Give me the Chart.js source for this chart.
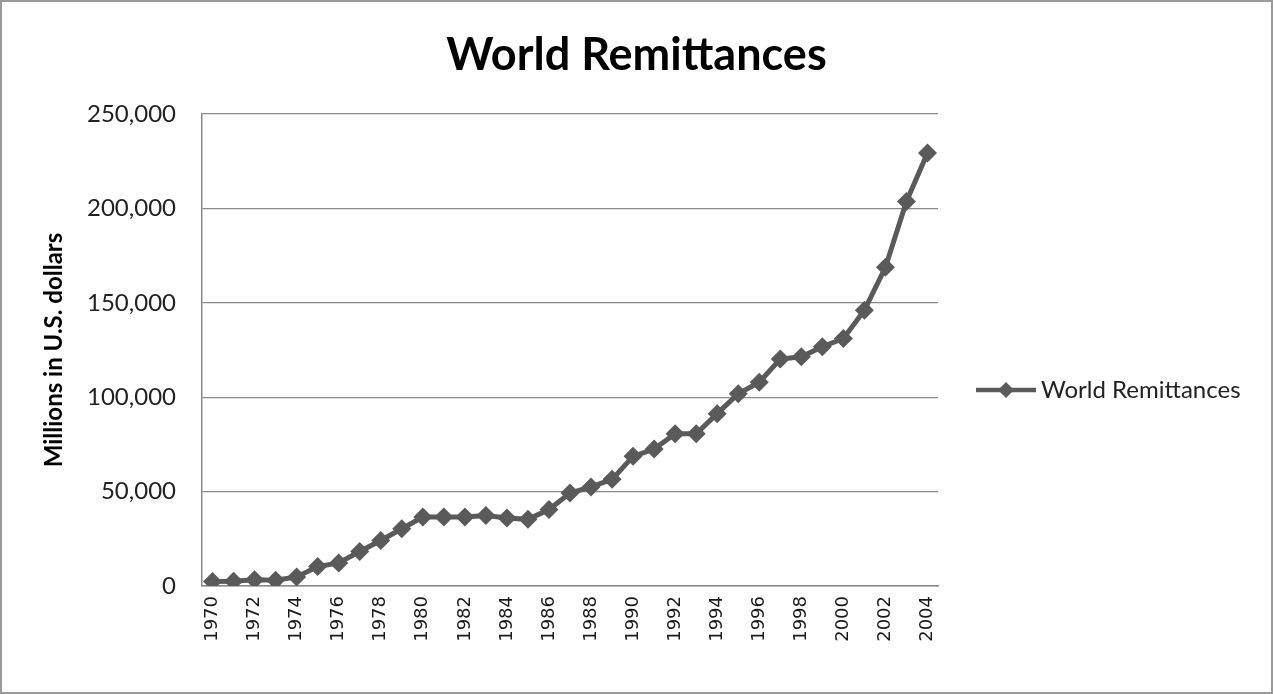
<!DOCTYPE html>
<html>
<head>
<meta charset="utf-8">
<script src="https://cdn.jsdelivr.net/npm/chart.js@4.4.1/dist/chart.umd.min.js"></script>
<style>
  html, body { margin: 0; padding: 0; background: #fff; }
  #wrap { width: 1273px; height: 694px; }
</style>
</head>
<body>
<div id="wrap"><canvas id="remitChart" width="1273" height="694"></canvas></div>
<script>
// ===== Data =====
const years = [
  "1970", "1971", "1972", "1973", "1974", "1975", "1976", "1977", "1978", "1979",
  "1980", "1981", "1982", "1983", "1984", "1985", "1986", "1987", "1988", "1989",
  "1990", "1991", "1992", "1993", "1994", "1995", "1996", "1997", "1998", "1999",
  "2000", "2001", "2002", "2003", "2004"
];
const remittances = [
  2400, 2500, 3300, 3000, 4800, 10300, 12200, 18300, 24100, 30300,
  36500, 36500, 36600, 37300, 36000, 35300, 40500, 49200, 52500, 56500,
  68700, 72500, 80600, 80600, 91300, 101800, 107900, 120200, 121400, 126700,
  131100, 146100, 168800, 203700, 229400
];
const yTicks = [0, 50000, 100000, 150000, 200000, 250000];

const lineColor = "#5a5a5a";
const axisFont = "Lato, 'Open Sans', sans-serif";

// legend on the right: line with a diamond, drawn by a small plugin
const legendPlugin = {
  id: "sideLegend",
  afterDraw(chart) {
    const ctx = chart.ctx;
    const y = 390;
    ctx.save();
    ctx.strokeStyle = lineColor;
    ctx.lineWidth = 4.5;
    ctx.beginPath();
    ctx.moveTo(976, y);
    ctx.lineTo(1036, y);
    ctx.stroke();
    ctx.fillStyle = lineColor;
    ctx.beginPath();
    ctx.moveTo(1006, y - 8);
    ctx.lineTo(1014, y);
    ctx.lineTo(1006, y + 8);
    ctx.lineTo(998, y);
    ctx.closePath();
    ctx.fill();
    ctx.fillStyle = "#222";
    ctx.font = "24px " + axisFont;
    ctx.textBaseline = "middle";
    ctx.fillText(chart.data.datasets[0].label, 1041, y);
    ctx.restore();
  }
};

// white background + outer frame
const framePlugin = {
  id: "frame",
  beforeDraw(chart) {
    const ctx = chart.ctx;
    ctx.save();
    ctx.fillStyle = "#fff";
    ctx.fillRect(0, 0, chart.width, chart.height);
    ctx.strokeStyle = "#9a9a9a";
    ctx.lineWidth = 2;
    ctx.strokeRect(1, 1, 1271, 692);
    ctx.restore();
  }
};

new Chart(document.getElementById("remitChart"), {
  type: "line",
  data: {
    labels: years,
    datasets: [{
      label: "World Remittances",
      data: remittances,
      borderColor: lineColor,
      backgroundColor: lineColor,
      borderWidth: 5,
      pointStyle: "rectRot",
      pointRadius: 9.5,
      pointHoverRadius: 9.5,
      pointBorderWidth: 0,
      tension: 0,
      fill: false
    }]
  },
  options: {
    responsive: false,
    animation: false,
    layout: { padding: 0 },
    plugins: {
      legend: { display: false },
      tooltip: { enabled: false },
      title: {
        display: true,
        text: "World Remittances",
        color: "#000",
        font: { family: axisFont, size: 45, weight: "bold" },
        padding: { top: 28, bottom: 32 }
      }
    },
    scales: {
      x: {
        offset: true,
        grid: { display: false, drawTicks: false },
        border: { color: "#8a8a8a", width: 1.5 },
        ticks: {
          autoSkip: false,
          minRotation: 90,
          maxRotation: 90,
          padding: 10,
          color: "#1a1a1a",
          font: { family: "'DejaVu Sans', sans-serif", size: 18 },
          callback: (v, i) => (i % 2 === 0 ? years[i] : "")
        },
        afterFit: s => { s.height = 108; }
      },
      y: {
        min: 0,
        max: 250000,
        afterBuildTicks: s => { s.ticks = yTicks.map(v => ({ value: v })); },
        grid: { color: "#8a8a8a", lineWidth: 1.2, drawTicks: false },
        border: { color: "#8a8a8a", width: 1.5 },
        ticks: {
          padding: 26,
          color: "#222",
          font: { family: axisFont, size: 24 },
          callback: v => v.toLocaleString("en-US")
        },
        title: {
          display: true,
          text: "Millions in U.S. dollars",
          color: "#000",
          font: { family: axisFont, size: 24, weight: "bold" },
          padding: { top: 40, bottom: 4 }
        },
        afterFit: s => { s.width = 202; }
      },
      // empty axis that only keeps room for the legend on the right
      side: {
        type: "linear",
        position: "right",
        display: true,
        grid: { display: false, drawTicks: false },
        border: { display: false },
        ticks: { display: false },
        afterFit: s => { s.width = 335; }
      }
    }
  },
  plugins: [framePlugin, legendPlugin]
});
</script>
</body>
</html>
